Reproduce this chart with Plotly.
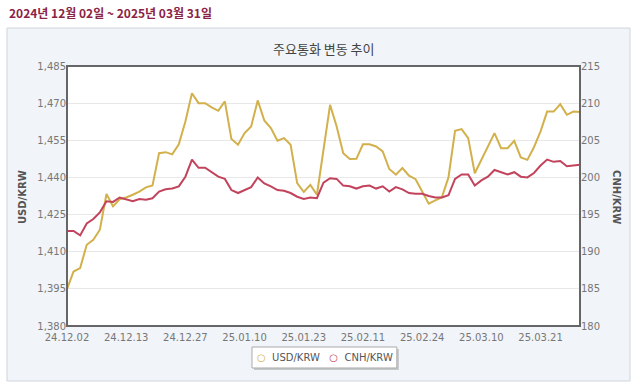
import plotly.graph_objects as go

dates = [
    "24.12.02", "24.12.03", "24.12.04", "24.12.05", "24.12.06", "24.12.09", "24.12.10", "24.12.11",
    "24.12.12", "24.12.13", "24.12.16", "24.12.17", "24.12.18", "24.12.19", "24.12.20", "24.12.23",
    "24.12.24", "24.12.26", "24.12.27", "24.12.30", "24.12.31",
    "25.01.02", "25.01.03", "25.01.06", "25.01.07", "25.01.08", "25.01.09", "25.01.10", "25.01.13",
    "25.01.14", "25.01.15", "25.01.16", "25.01.17", "25.01.20", "25.01.21", "25.01.22", "25.01.23",
    "25.01.24", "25.01.31",
    "25.02.03", "25.02.04", "25.02.05", "25.02.06", "25.02.07", "25.02.10", "25.02.11", "25.02.12",
    "25.02.13", "25.02.14", "25.02.17", "25.02.18", "25.02.19", "25.02.20", "25.02.21", "25.02.24",
    "25.02.25", "25.02.26", "25.02.27", "25.02.28",
    "25.03.04", "25.03.05", "25.03.06", "25.03.07", "25.03.10", "25.03.11", "25.03.12", "25.03.13",
    "25.03.14", "25.03.17", "25.03.18", "25.03.19", "25.03.20", "25.03.21", "25.03.24", "25.03.25",
    "25.03.26", "25.03.27", "25.03.28", "25.03.31",
]

usd_krw = [
    1394.9, 1402.0, 1403.4, 1412.8, 1414.8, 1418.9, 1433.3, 1428.3, 1431.2, 1431.9,
    1433.0, 1434.3, 1436.0, 1436.8, 1449.8, 1450.2, 1449.3, 1453.4, 1462.6, 1474.0,
    1470.0, 1470.0, 1468.3, 1466.9, 1470.7, 1455.5, 1453.2, 1457.9, 1460.6, 1471.1,
    1463.0, 1459.9, 1454.8, 1455.9, 1453.2, 1437.7, 1434.1, 1437.0, 1433.0, 1451.0,
    1469.3, 1460.6, 1449.8, 1447.4, 1447.5, 1453.4, 1453.4, 1452.5, 1450.5, 1443.4,
    1441.1, 1443.8, 1440.7, 1439.3, 1434.3, 1429.4, 1430.7, 1432.0, 1440.0, 1458.8,
    1459.5, 1455.9, 1441.7, 1447.1, 1452.2, 1457.9, 1451.8, 1451.8, 1454.8, 1448.1,
    1447.1, 1452.2, 1458.6, 1466.6, 1466.6, 1469.6, 1465.3, 1466.6, 1466.4,
]

cnh_krw = [
    192.8, 192.8, 192.2, 193.8, 194.4, 195.3, 196.8, 196.7, 197.3, 197.1,
    196.8, 197.1, 197.0, 197.2, 198.1, 198.4, 198.5, 198.8, 200.1, 202.4,
    201.3, 201.3, 200.7, 200.1, 199.8, 198.3, 197.9, 198.3, 198.7, 200.0,
    199.2, 198.8, 198.3, 198.2, 197.9, 197.4, 197.1, 197.3, 197.2, 199.3,
    199.9, 199.8, 198.9, 198.8, 198.5, 198.8, 198.9, 198.5, 198.8, 198.1,
    198.7, 198.4, 197.9, 197.8, 197.8, 197.5, 197.3, 197.3, 197.6, 199.8,
    200.4, 200.4, 198.9, 199.6, 200.1, 201.0, 200.7, 200.4, 200.7, 200.1,
    200.0, 200.6, 201.6, 202.4, 202.1, 202.2, 201.5, 201.6, 201.7,
]

tick_labels = ["24.12.02", "24.12.13", "24.12.27", "25.01.10", "25.01.23",
               "25.02.11", "25.02.24", "25.03.10", "25.03.21"]
left_ticks = [1380, 1395, 1410, 1425, 1440, 1455, 1470, 1485]
right_ticks = [180, 185, 190, 195, 200, 205, 210, 215]

USD_COLOR = "#d2b04c"
CNH_COLOR = "#c2435c"
FONT = "DejaVu Sans"

fig = go.Figure()
fig.add_trace(go.Scatter(x=dates, y=usd_krw, mode="lines", name="USD/KRW",
                         line=dict(color=USD_COLOR, width=2), showlegend=False))
fig.add_trace(go.Scatter(x=dates, y=cnh_krw, mode="lines", name="CNH/KRW", yaxis="y2",
                         line=dict(color=CNH_COLOR, width=2), showlegend=False))

fig.update_layout(
    width=640, height=390,
    margin=dict(l=67, r=60, t=66, b=64),
    paper_bgcolor="white",
    plot_bgcolor="white",
    font=dict(family=FONT, size=10, color="#666"),
    xaxis=dict(type="category", categoryorder="array", categoryarray=dates,
               range=[0, len(dates) - 1], tickvals=tick_labels, ticktext=tick_labels,
               showgrid=False, zeroline=False, ticks="", ticklabelstandoff=4,
               tickfont=dict(size=10, color="#777")),
    yaxis=dict(range=[1380, 1485], tickvals=left_ticks, tickformat=",d",
               showgrid=True, gridcolor="#e8e8e8", gridwidth=1, zeroline=False, ticks="",
               tickfont=dict(size=10, color="#777")),
    yaxis2=dict(range=[180, 215], tickvals=right_ticks, overlaying="y", side="right",
                showgrid=False, zeroline=False, ticks="",
                tickfont=dict(size=10, color="#777")),
    showlegend=False,
)

# outer panel
fig.add_shape(type="rect", xref="paper", yref="paper", x0=-0.117, x1=1.0975, y0=-0.2115, y1=1.146,
              line=dict(color="#cfd5dc", width=1), fillcolor="#f1f4f8", layer="below")
# white plot area
fig.add_shape(type="rect", xref="paper", yref="paper", x0=0, x1=1, y0=0, y1=1,
              line=dict(width=0), fillcolor="white", layer="below")
# plot border
fig.add_shape(type="rect", xref="paper", yref="paper", x0=0, x1=1, y0=0, y1=1,
              line=dict(color="#666", width=2), fillcolor="rgba(0,0,0,0)", layer="above")

# legend box (shadow + box)
fig.add_shape(type="rect", xref="paper", yref="paper", x0=0.3645, x1=0.647, y0=-0.169, y1=-0.088,
              line=dict(width=0), fillcolor="rgba(0,0,0,0.18)", layer="above")
fig.add_shape(type="rect", xref="paper", yref="paper", x0=0.3606, x1=0.643, y0=-0.1615, y1=-0.0808,
              line=dict(color="#aaa", width=1), fillcolor="white", layer="above")
fig.add_annotation(
    text=(f"<span style='color:{USD_COLOR}'>○</span>  USD/KRW   "
          f"<span style='color:{CNH_COLOR}'>○</span>  CNH/KRW"),
    xref="paper", yref="paper", x=0.502, y=-0.121, xanchor="center", yanchor="middle",
    showarrow=False, font=dict(family=FONT, size=10, color="#555"))

# axis titles
fig.add_annotation(text="<b>USD/KRW</b>", xref="paper", yref="paper", x=-0.0877, y=0.496,
                   textangle=-90, xanchor="center", yanchor="middle", showarrow=False,
                   font=dict(family=FONT, size=10, color="#555"))
fig.add_annotation(text="<b>CNH/KRW</b>", xref="paper", yref="paper", x=1.072, y=0.496,
                   textangle=90, xanchor="center", yanchor="middle", showarrow=False,
                   font=dict(family=FONT, size=10, color="#555"))

fig.add_annotation(text="<b>2024년 12월 02일 ~ 2025년 03월 31일</b>", xref="paper", yref="paper",
                   x=-0.117, y=1.204, xanchor="left", yanchor="middle", showarrow=False,
                   font=dict(family="Noto Sans CJK KR", size=12, color="#8b2346"))
fig.add_annotation(text="주요통화 변동 추이", xref="paper", yref="paper",
                   x=0.5, y=1.069, xanchor="center", yanchor="middle", showarrow=False,
                   font=dict(family="Noto Sans CJK KR", size=13, color="#444"))

fig.write_html("out.html", post_script="document.body.style.margin='0';",
               config={"displayModeBar": False})
